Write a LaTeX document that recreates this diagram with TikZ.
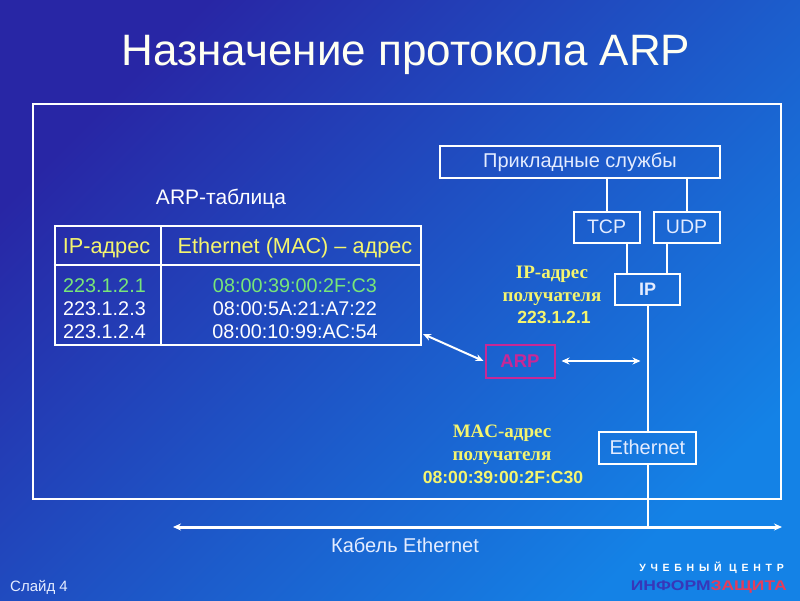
\documentclass[tikz,border=0pt]{standalone}
\usepackage{fontspec}
\setmainfont{Liberation Sans}
\newfontfamily\tnr{Liberation Serif}
\usetikzlibrary{arrows.meta}
\definecolor{bgA}{RGB}{40,38,165}
\definecolor{bgB}{RGB}{20,130,230}
\definecolor{hdr}{RGB}{245,245,110}
\definecolor{grn}{RGB}{120,230,120}
\definecolor{arpcol}{RGB}{200,40,150}
\definecolor{boxtxt}{RGB}{228,236,255}
\definecolor{titlecol}{RGB}{255,255,242}
\definecolor{logoblue}{RGB}{55,55,185}
\definecolor{logored}{RGB}{230,60,90}
\begin{document}
\begin{tikzpicture}[x=1pt,y=-1pt,
  box/.style={draw=white,line width=2pt,inner sep=0pt,text=boxtxt,font=\fontsize{19.5}{19.5}\selectfont},
  wire/.style={white,line width=2pt},
  dblarrow/.style={white,line width=2pt,{Stealth[length=8pt,width=7pt]}-{Stealth[length=8pt,width=7pt]}},
  lbl/.style={anchor=base,inner sep=0pt},
  hdrtxt/.style={lbl,text=hdr,font=\fontsize{21.7}{21.7}\selectfont},
  celltxt/.style={lbl,text=white,font=\fontsize{19.8}{19.8}\selectfont},
  yserif/.style={lbl,text=hdr,font=\tnr\bfseries\fontsize{19}{19}\selectfont},
  ysans/.style={lbl,text=hdr,font=\bfseries\fontsize{17.6}{17.6}\selectfont},
]
\useasboundingbox (0,0) rectangle (800,600);
\shade[top color=bgA,bottom color=bgB,shading angle=45] (0,0) rectangle (800,600);

% frame and title
\node[draw=white,line width=2pt,minimum width=748,minimum height=395,inner sep=0pt] (frame) at (407,301.5) {};
\node[lbl,text=titlecol,font=\fontsize{44}{44}\selectfont] (title) at (406,65) {Назначение протокола ARP};

% ARP table
\node[lbl,text=white,font=\fontsize{21}{21}\selectfont] (tblcap) at (221,204) {ARP-таблица};
\node[draw=white,line width=2pt,minimum width=366,minimum height=119,inner sep=0pt] (tbl) at (237.5,285.5) {};
\coordinate (vd) at (161,0);
\coordinate (hd) at (0,265);
\draw[wire] (tbl.north -| vd) -- (tbl.south -| vd);
\draw[wire] (tbl.west |- hd) -- (tbl.east |- hd);
\node[hdrtxt] (h1) at (106.5,253) {IP-адрес};
\node[hdrtxt] (h2) at (295,253) {Ethernet (MAC) – адрес};
\node[celltxt,anchor=base west,text=grn] (ip1) at (63,292) {223.1.2.1};
\node[celltxt,anchor=base west] (ip2) at (63,315) {223.1.2.3};
\node[celltxt,anchor=base west] (ip3) at (63,338) {223.1.2.4};
\node[celltxt,text=grn] (mac1) at (295,292) {08:00:39:00:2F:C3};
\node[celltxt] (mac2) at (295,315) {08:00:5A:21:A7:22};
\node[celltxt] (mac3) at (295,338) {08:00:10:99:AC:54};

% protocol stack
\node[box,minimum width=280,minimum height=32,font=\fontsize{20}{20}\selectfont] (app) at (580,162) {Прикладные службы};
\node[box,minimum width=66,minimum height=31] (tcp) at (606.5,227) {TCP};
\node[box,minimum width=66,minimum height=31] (udp) at (686.5,227) {UDP};
\node[box,minimum width=65,minimum height=31,font=\bfseries\fontsize{18}{18}\selectfont] (ip) at (647.5,289) {IP};
\node[box,minimum width=97,minimum height=32,font=\fontsize{20}{20}\selectfont] (eth) at (647.5,447.5) {Ethernet};
\node[draw=arpcol,line width=2pt,minimum width=69,minimum height=33,inner sep=0pt,text=arpcol,font=\bfseries\fontsize{18.5}{18.5}\selectfont] (arp) at (520,361) {ARP};

\coordinate (t1) at (627,0);
\coordinate (t2) at (667,0);
\draw[wire] (app.south -| tcp.north) -- (tcp.north);
\draw[wire] (app.south -| udp.north) -- (udp.north);
\draw[wire] (tcp.south -| t1) -- (ip.north -| t1);
\draw[wire] (udp.south -| t2) -- (ip.north -| t2);
\draw[wire] (ip.south) -- (eth.north);

% cable
\coordinate (cabL) at (173,527);
\coordinate (cabR) at (782,527);
\draw[wire] (eth.south) -- (eth.south |- cabL);
\draw[dblarrow,line width=3pt] (cabL) -- (cabR);
\node[lbl,text=boxtxt,font=\fontsize{20}{20}\selectfont] (cab) at (405,552) {Кабель Ethernet};

% ARP arrows
\coordinate (tblport) at (423,334);
\draw[dblarrow] (tblport) -- ([xshift=-1pt]arp.west);
\draw[dblarrow] ([xshift=6pt]arp.east) -- ([xshift=-7pt]arp.east -| ip.south);

% labels
\node[yserif] (ipl1) at (552,278) {IP-адрес};
\node[yserif] (ipl2) at (552,301) {получателя};
\node[ysans] (ipl3) at (554,323) {223.1.2.1};
\node[yserif] (macl1) at (502,437) {MAC-адрес};
\node[yserif] (macl2) at (502,460) {получателя};
\node[ysans] (macl3) at (503,483) {08:00:39:00:2F:C30};

% footer
\node[lbl,anchor=base west,text=boxtxt,font=\fontsize{15}{15}\selectfont] (slide) at (10,591) {Слайд 4};
\node[lbl,anchor=base east,text=white,font=\bfseries\fontsize{10.5}{10.5}\selectfont\addfontfeature{LetterSpace=45}] (uc) at (784,571) {УЧЕБНЫЙ ЦЕНТР};
\node[lbl,anchor=base east,font=\bfseries\fontsize{14}{14}\selectfont\addfontfeature{FakeStretch=1.25}] (logo) at (787,590) {\textcolor{logoblue}{ИНФОРМ}\textcolor{logored}{ЗАЩИТА}};
\end{tikzpicture}
\end{document}
